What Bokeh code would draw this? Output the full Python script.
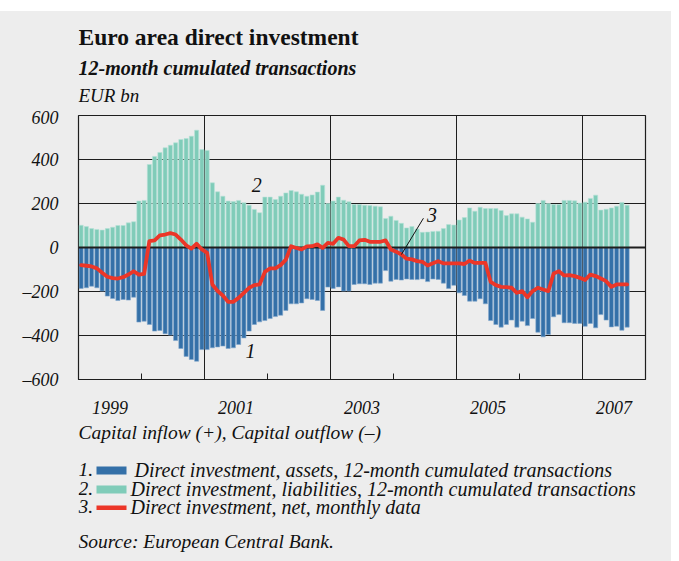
import pandas as pd
from bokeh.plotting import figure
from bokeh.layouts import column
from bokeh.models import FixedTicker, Label, Range1d, ColumnDataSource, Spacer
from bokeh.core.properties import value
from bokeh.embed import file_html
from bokeh.resources import INLINE

# ---------------- data (EUR bn), monthly from Jan 1999 ----------------
assets = [-186, -183, -176, -183, -198, -221, -232, -241, -236, -239, -226, -339,
          -335, -350, -380, -377, -392, -398, -423, -459, -495, -509, -517, -464,
          -464, -456, -452, -448, -459, -456, -441, -411, -380, -350, -338, -332,
          -323, -314, -308, -286, -256, -256, -252, -233, -236, -241, -286, -180,
          -186, -179, -198, -198, -168, -165, -165, -168, -162, -162, -105, -153,
          -145, -148, -143, -145, -146, -143, -155, -143, -145, -162, -186, -172,
          -206, -218, -244, -244, -233, -256, -332, -350, -362, -350, -330, -362,
          -335, -355, -323, -385, -406, -395, -315, -305, -342, -342, -345, -345,
          -358, -345, -365, -305, -330, -361, -358, -376, -362]
liabilities = [101, 95, 86, 82, 79, 86, 92, 100, 100, 112, 117, 211,
               214, 377, 414, 432, 453, 465, 476, 491, 495, 506, 533, 445,
               441, 294, 253, 233, 211, 209, 214, 203, 192, 173, 158, 229,
               229, 218, 233, 248, 259, 253, 242, 233, 239, 252, 283, 200,
               211, 229, 215, 208, 195, 195, 192, 191, 188, 185, 132, 142,
               123, 110, 89, 95, 84, 69, 70, 73, 74, 86, 104, 102,
               125, 136, 180, 165, 183, 177, 177, 177, 168, 145, 153, 153,
               138, 130, 115, 200, 214, 200, 195, 195, 214, 214, 212, 202,
               206, 223, 238, 170, 174, 180, 188, 205, 192]
net = [-80, -83, -86, -95, -115, -133, -139, -141, -135, -123, -108, -123,
       -120, 29, 32, 55, 59, 65, 59, 36, 10, -5, 17, -9,
       -24, -168, -198, -218, -247, -247, -229, -206, -183, -171, -168, -111,
       -95, -95, -80, -55, 6, -2, -9, 5, 6, 14, -2, 21,
       17, 44, 36, 6, 6, 32, 35, 26, 26, 26, 32, -9,
       -19, -32, -51, -54, -62, -65, -82, -72, -62, -72, -72, -72,
       -72, -75, -60, -70, -70, -70, -156, -171, -179, -180, -183, -206,
       -198, -226, -198, -183, -191, -198, -118, -108, -127, -126, -130, -138,
       -148, -123, -130, -141, -153, -179, -168, -168, -168]

year_labels = ["1999", "2001", "2003", "2005", "2007"]
y_ticks = [-600, -400, -200, 0, 200, 400, 600]
y_tick_labels = ["\u2013600", "\u2013400", "\u2013200", "0", "200", "400", "600"]

legend_numbers = ["1.", "2.", "3."]
legend_texts = ["Direct investment, assets, 12-month cumulated transactions",
                "Direct investment, liabilities, 12-month cumulated transactions",
                "Direct investment, net, monthly data"]

months = pd.period_range("1999-01", periods=len(assets), freq="M")
xm = [m.year + (m.month - 0.5) / 12 for m in months]
src = ColumnDataSource(dict(x=xm, assets=assets, liabilities=liabilities, net=net))

# ---------------- styling / layout ----------------
BG = "#ededed"
BLUE = "#3470a8"
TEAL = "#80ccb9"
RED = "#ec3628"
INK = "#111111"
FONT = "Liberation Serif"
W = 671
FL, FW = 78, 567               # frame left and width (shared by all panels)
FR = W - FL - FW

TOP_GAP = 11                  # white strip above the grey panel
HEAD_TOP, HEAD_BOT = TOP_GAP, 107
CHART_TOP, FH, CHART_BOTTOM = 8, 264, 41
FOOT_TOP = HEAD_BOT + CHART_TOP + FH + CHART_BOTTOM
FOOT_BOT = 561


def panel(y_top, y_bot):
    f = figure(frame_width=FW, frame_height=y_bot - y_top,
               min_border_left=FL, min_border_right=FR, min_border_top=0, min_border_bottom=0,
               x_range=Range1d(FL, FL + FW), y_range=Range1d(y_bot, y_top),
               x_axis_type=None, y_axis_type=None,
               output_backend="svg", toolbar_location=None, tools="")
    f.grid.visible = False
    f.outline_line_color = None
    f.background_fill_color = BG
    f.border_fill_color = BG
    return f


def put(f, X, Y, text, size, style="italic"):
    f.text(x=[X], y=[Y], text=[text], text_font=value(FONT), text_font_size=value(size),
           text_font_style=style, text_color=INK, text_baseline="alphabetic",
           text_align="left")


# ---------------- header ----------------
head = panel(HEAD_TOP, HEAD_BOT)
put(head, 78, 36, "Euro area direct investment", "23.5px", "bold")
put(head, 78, 67, "12-month cumulated transactions", "20px", "bold italic")
put(head, 78, 95, "EUR bn", "19px")

# ---------------- chart ----------------
X0, X1, Y0, Y1 = 1999, 2008, -600, 600
p = figure(frame_width=FW, frame_height=FH,
           min_border_left=FL, min_border_top=CHART_TOP,
           min_border_right=FR, min_border_bottom=CHART_BOTTOM,
           x_range=Range1d(X0, X1), y_range=Range1d(Y0, Y1),
           output_backend="svg", toolbar_location=None, tools="")
p.background_fill_color = BG
p.border_fill_color = BG
p.outline_line_color = "#1e1e1e"
p.outline_line_width = 1.2

ya = p.yaxis[0]
ya.ticker = FixedTicker(ticks=y_ticks)
ya.major_label_overrides = {t: l for t, l in zip(y_ticks, y_tick_labels)}
ya.axis_line_color = None
ya.major_tick_line_color = None
ya.minor_tick_line_color = None
ya.major_label_standoff = 14
ya.major_label_text_font = FONT
ya.major_label_text_font_style = "italic"
ya.major_label_text_font_size = "18px"
ya.major_label_text_color = INK

mid_years = [int(s) + 0.5 for s in year_labels]
xa = p.xaxis[0]
xa.ticker = FixedTicker(ticks=mid_years, minor_ticks=list(range(1999, 2009)))
xa.major_label_overrides = {t: l for t, l in zip(mid_years, year_labels)}
xa.axis_line_color = None
xa.major_tick_line_color = None
xa.minor_tick_in = 6
xa.minor_tick_out = 0
xa.minor_tick_line_color = "#1e1e1e"
xa.major_label_standoff = 15
xa.major_label_text_font = FONT
xa.major_label_text_font_style = "italic"
xa.major_label_text_font_size = "18px"
xa.major_label_text_color = INK

p.xgrid.ticker = FixedTicker(ticks=[2001, 2003, 2005, 2007])
p.xgrid.grid_line_color = "#1e1e1e"
p.xgrid.grid_line_width = 1
p.ygrid.ticker = FixedTicker(ticks=[-400, -200, 200, 400])
p.ygrid.grid_line_color = "#1e1e1e"
p.ygrid.grid_line_width = 1

bw = 0.78 / 12
p.vbar(x="x", top="liabilities", bottom=0, width=bw, source=src,
       fill_color=TEAL, line_color="#b5e2d6", line_width=0.6)
p.vbar(x="x", top=0, bottom="assets", width=bw, source=src,
       fill_color=BLUE, line_color="#7fa6cc", line_width=0.6)
p.hspan(y=[0], line_color="#1e1e1e", line_width=2)
p.line(x="x", y="net", source=src, line_color=RED, line_width=3.8,
       line_join="round", line_cap="round")

k = 61
p.segment(x0=[xm[k]], y0=[net[k]], x1=[xm[k] + 0.35], y1=[net[k] + 165],
          line_color=INK, line_width=1)


def cl(xv, yv, text):
    p.add_layout(Label(x=xv, y=yv, text=text, text_font=FONT, text_font_size="20px",
                       text_font_style="italic", text_color=INK,
                       text_align="left", text_baseline="alphabetic"))


cl(2001.75, 286, "2")
cl(2001.65, -469, "1")
cl(2004.53, 148, "3")

# ---------------- footer ----------------
foot = panel(FOOT_TOP, FOOT_BOT)
put(foot, 78, 432, "Capital inflow (+), Capital outflow (\u2013)", "19.5px")
rows = [(469, 134, BLUE, 466, 474), (488, 130, TEAL, 485, 493), (506, 130, RED, 505, 509.5)]
for (base, tx, col, t, b), num, txt in zip(rows, legend_numbers, legend_texts):
    put(foot, 78, base, num, "19.5px")
    put(foot, tx, base, txt, "20px")
    foot.quad(left=[96], right=[126], top=[t], bottom=[b], fill_color=col, line_color=None)
put(foot, 78, 541, "Source: European Central Bank.", "19.5px")

gap = Spacer(width=W, height=TOP_GAP, styles={"background-color": "white"})
layout = column(gap, head, p, foot, spacing=0, styles={"background-color": BG})
open("out.html", "w").write(file_html(layout, INLINE))
